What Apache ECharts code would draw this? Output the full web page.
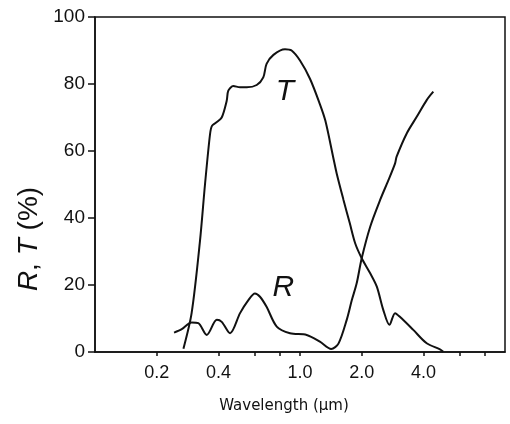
<!DOCTYPE html>
<html>
<head>
<meta charset="utf-8">
<script src="https://cdn.jsdelivr.net/npm/echarts@6/dist/echarts.min.js"></script>
<style>
  html, body { margin: 0; padding: 0; background: #fff; }
  #chart { width: 510px; height: 424px; }
</style>
</head>
<body>
<div id="chart"></div>
<script>
// Transmission spectrum: [wavelength (µm), T (%)]
const transmission = [
  [0.27, 1], [0.296, 11.6], [0.325, 33], [0.344, 50], [0.364, 65], [0.372, 67.5],
  [0.39, 68.5], [0.415, 70], [0.439, 75], [0.447, 78], [0.473, 79.4], [0.51, 79],
  [0.55, 79], [0.615, 79.7], [0.662, 82], [0.687, 86], [0.742, 88.7], [0.845, 90.4],
  [0.91, 90], [1.0, 87], [1.12, 81.5], [1.25, 74], [1.33, 69], [1.45, 58.3],
  [1.51, 53.3], [1.63, 45.4], [1.75, 38.4], [1.86, 32.4], [2.0, 28], [2.2, 23.5],
  [2.37, 19.5], [2.55, 12.5], [2.73, 8.1], [2.91, 11.6], [3.07, 10.5], [3.57, 6.6],
  [4.15, 2.6], [4.82, 0.8], [5.0, 0.1]
];

// Reflection spectrum: [wavelength (µm), R (%)]
const reflection = [
  [0.243, 5.8], [0.265, 6.8], [0.296, 8.8], [0.319, 8.6], [0.351, 5.1], [0.393, 9.6],
  [0.415, 9], [0.456, 5.6], [0.51, 11.6], [0.56, 15.5], [0.603, 17.5], [0.638, 16.5],
  [0.687, 13.5], [0.77, 7.6], [0.894, 5.6], [1.078, 5.1], [1.25, 3.1], [1.42, 0.9],
  [1.54, 2.5], [1.69, 9.6], [1.79, 15.5], [1.89, 20.5], [2.0, 28], [2.2, 37.4],
  [2.46, 45.4], [2.7, 51.3], [2.91, 56.3], [2.96, 58.3], [3.32, 65.3], [3.71, 70.2],
  [4.15, 75.2], [4.47, 77.7]
];

const xTicks = [0.2, 0.4, 0.6, 0.8, 1.0, 2.0, 4.0, 6.0, 8.0];
const xTickLabels = [0.2, 0.4, 1.0, 2.0, 4.0];
const yTicks = [0, 20, 40, 60, 80, 100];

// Positions of the curve letters, in data units
const tLabelAt = [0.845, 77.6];
const rLabelAt = [0.83, 19.1];

const ink = '#111';
const chart = echarts.init(document.getElementById('chart'), null, { renderer: 'canvas' });

function curveLetter(text, coord) {
  return {
    silent: true,
    symbol: 'circle',
    symbolSize: 1,
    itemStyle: { color: 'rgba(0,0,0,0)' },
    label: {
      show: true, position: 'inside', formatter: text,
      color: ink, fontSize: 30, fontStyle: 'italic', fontFamily: 'Liberation Sans'
    },
    data: [{ coord: coord }]
  };
}

chart.setOption({
  animation: false,
  backgroundColor: '#fff',
  grid: {
    left: 95, right: 5, top: 17, bottom: 72,
    show: true, borderColor: ink, borderWidth: 1.5, backgroundColor: 'transparent'
  },
  xAxis: {
    type: 'log', logBase: 10, min: 0.1, max: 10,
    axisLine: { show: true, lineStyle: { color: ink, width: 1.5 } },
    axisTick: { show: true, inside: false, length: 4, customValues: xTicks,
      lineStyle: { color: ink, width: 1.5 } },
    axisLabel: {
      customValues: xTickLabels, margin: 12,
      color: ink, fontSize: 18, fontFamily: 'Liberation Sans',
      formatter: v => Number(v).toFixed(1)
    },
    splitLine: { show: false },
    minorTick: { show: false }
  },
  yAxis: {
    type: 'value', min: 0, max: 100, interval: 20,
    axisLine: { show: true, lineStyle: { color: ink, width: 1.5 } },
    axisTick: { show: true, inside: false, length: 7, customValues: yTicks,
      lineStyle: { color: ink, width: 1.5 } },
    axisLabel: {
      margin: 10, color: ink, fontSize: 19, fontFamily: 'Liberation Sans'
    },
    splitLine: { show: false }
  },
  graphic: [
    {
      type: 'text',
      x: 29, y: 239, rotation: Math.PI / 2,
      style: {
        text: '{i|R}{n|, }{i|T}{n| (%)}',
        align: 'center', verticalAlign: 'middle', fill: ink,
        rich: {
          i: { fontSize: 28, fontStyle: 'italic', fontFamily: 'Liberation Sans', fill: ink },
          n: { fontSize: 28, fontFamily: 'Liberation Sans', fill: ink }
        }
      }
    },
    {
      type: 'text',
      x: 284, y: 406,
      style: {
        text: 'Wavelength (µm)',
        align: 'center', verticalAlign: 'middle', fill: ink,
        fontSize: 15, fontFamily: 'DejaVu Sans'
      }
    }
  ],
  series: [
    {
      name: 'T', type: 'line', data: transmission,
      smooth: 0.3, showSymbol: false, silent: true,
      lineStyle: { color: ink, width: 2 },
      markPoint: curveLetter('T', tLabelAt)
    },
    {
      name: 'R', type: 'line', data: reflection,
      smooth: 0.3, showSymbol: false, silent: true,
      lineStyle: { color: ink, width: 2 },
      markPoint: curveLetter('R', rLabelAt)
    }
  ]
});
</script>
</body>
</html>
